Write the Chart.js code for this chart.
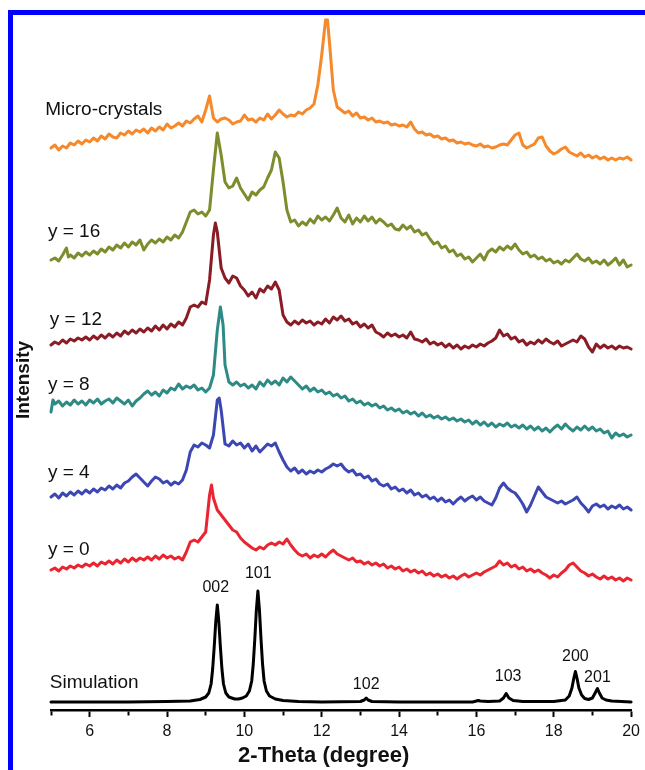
<!DOCTYPE html>
<html lang="en">
<head>
<meta charset="UTF-8">
<title>XRD patterns</title>
<style>
  html, body { margin: 0; padding: 0; background: #fff; overflow: hidden; }
  #frame { position: absolute; left: 8px; top: 10px; width: 1000px; height: 1000px;
           border-left: 5px solid #0000ff; border-top: 5px solid #0000ff; }
  #xrdChart { position: absolute; left: 0; top: 0; }
</style>
</head>
<body>
<div id="frame"></div>
<canvas id="xrdChart" width="645" height="770"></canvas>
<script src="https://cdn.jsdelivr.net/npm/chart.js"></script>
<script>
// [2-theta, offset intensity]
const microCrystals = [[5.0,562],[5.1,565],[5.2,560],[5.3,564],[5.4,562],[5.5,567],[5.6,565],[5.7,569],[5.8,566],[5.9,570],
  [6.0,568],[6.1,572],[6.2,569],[6.3,574],[6.4,571],[6.5,576],[6.6,573],[6.7,572],[6.8,577],[6.9,575],
  [7.0,579],[7.1,576],[7.2,580],[7.3,578],[7.4,581],[7.5,577],[7.6,582],[7.7,579],[7.8,583],[7.9,580],
  [8.0,586],[8.1,582],[8.2,584],[8.3,587],[8.4,584],[8.5,589],[8.6,587],[8.7,591],[8.8,594],[8.9,588],
  [9.0,600],[9.1,614],[9.2,592],[9.3,588],[9.4,591],[9.5,592],[9.6,590],[9.7,586],[9.8,588],[9.9,589],
  [10.0,595],[10.1,590],[10.2,591],[10.3,588],[10.4,592],[10.5,590],[10.6,596],[10.7,591],[10.8,595],[10.9,600],
  [11.0,596],[11.1,593],[11.2,595],[11.3,594],[11.4,598],[11.5,596],[11.6,600],[11.7,602],[11.8,606],[11.9,625],
  [12.0,655],[12.1,690],[12.15,690],[12.2,668],[12.3,620],[12.4,603],[12.5,600],[12.6,597],[12.7,599],[12.8,594],
  [12.9,597],[13.0,592],[13.1,593],[13.2,590],[13.3,592],[13.4,588],[13.5,589],[13.6,587],[13.7,588],[13.8,585],
  [13.9,586],[14.0,584],[14.1,585],[14.2,583],[14.3,588],[14.4,581],[14.5,577],[14.6,578],[14.7,575],[14.8,576],
  [14.9,573],[15.0,574],[15.1,571],[15.2,572],[15.3,569],[15.4,570],[15.5,567],[15.6,568],[15.7,566],[15.8,567],
  [15.9,565],[16.0,564],[16.1,566],[16.2,563],[16.3,564],[16.4,562],[16.5,563],[16.6,565],[16.7,566],[16.8,565],
  [16.9,570],[17.0,575],[17.1,577],[17.2,565],[17.3,562],[17.4,564],[17.5,566],[17.6,572],[17.7,573],[17.8,564],
  [17.9,559],[18.0,556],[18.1,558],[18.2,561],[18.3,563],[18.4,558],[18.5,556],[18.6,554],[18.7,557],[18.8,553],
  [18.9,555],[19.0,552],[19.1,554],[19.2,551],[19.3,553],[19.4,550],[19.5,552],[19.6,550],[19.7,552],[19.8,551],
  [19.9,553],[20.0,550]];

const y16 = [[5.0,450],[5.1,452],[5.2,449],[5.3,455],[5.4,462],[5.45,453],[5.5,455],[5.6,452],[5.7,457],[5.8,454],
  [5.9,458],[6.0,455],[6.1,459],[6.2,456],[6.3,461],[6.4,458],[6.5,463],[6.6,460],[6.7,465],[6.8,462],
  [6.9,467],[7.0,463],[7.1,468],[7.2,465],[7.3,470],[7.4,460],[7.5,466],[7.6,470],[7.7,467],[7.8,471],
  [7.9,468],[8.0,473],[8.1,470],[8.2,475],[8.3,472],[8.4,478],[8.5,488],[8.6,498],[8.7,500],[8.8,496],
  [8.9,498],[9.0,494],[9.1,500],[9.2,540],[9.3,577],[9.4,555],[9.5,528],[9.6,522],[9.7,524],[9.8,532],
  [9.9,522],[10.0,516],[10.1,510],[10.2,518],[10.3,515],[10.4,520],[10.5,523],[10.6,532],[10.7,540],[10.8,558],
  [10.9,552],[11.0,528],[11.1,500],[11.2,488],[11.3,490],[11.4,484],[11.5,488],[11.6,485],[11.7,491],[11.8,487],
  [11.9,494],[12.0,490],[12.1,493],[12.2,489],[12.3,495],[12.4,502],[12.5,492],[12.6,488],[12.7,495],[12.8,486],
  [12.9,492],[13.0,488],[13.1,494],[13.2,489],[13.3,493],[13.4,487],[13.5,491],[13.6,488],[13.7,484],[13.8,486],
  [13.9,481],[14.0,480],[14.1,485],[14.2,481],[14.3,484],[14.4,478],[14.5,480],[14.6,475],[14.7,477],[14.8,471],
  [14.9,466],[15.0,468],[15.1,462],[15.2,464],[15.3,458],[15.4,460],[15.5,454],[15.6,456],[15.7,451],[15.8,453],
  [15.9,448],[16.0,452],[16.1,456],[16.2,450],[16.3,458],[16.4,461],[16.5,458],[16.6,463],[16.7,460],[16.8,464],
  [16.9,461],[17.0,466],[17.1,460],[17.2,456],[17.3,458],[17.4,453],[17.5,455],[17.6,451],[17.7,453],[17.8,449],
  [17.9,451],[18.0,447],[18.1,449],[18.2,446],[18.3,450],[18.4,448],[18.5,452],[18.6,456],[18.7,451],[18.8,449],
  [18.9,452],[19.0,447],[19.1,449],[19.2,446],[19.3,450],[19.4,445],[19.5,448],[19.6,452],[19.7,445],[19.8,450],
  [19.9,443],[20.0,445]];

const y12 = [[5.0,365],[5.1,368],[5.2,366],[5.3,370],[5.4,367],[5.5,371],[5.6,369],[5.7,372],[5.8,370],[5.9,373],
  [6.0,370],[6.1,374],[6.2,371],[6.3,375],[6.4,372],[6.5,376],[6.6,373],[6.7,377],[6.8,374],[6.9,379],
  [7.0,376],[7.1,380],[7.2,377],[7.3,381],[7.4,378],[7.5,382],[7.6,379],[7.7,384],[7.8,380],[7.9,385],
  [8.0,381],[8.1,386],[8.2,383],[8.3,388],[8.4,385],[8.5,392],[8.6,403],[8.7,405],[8.8,403],[8.9,408],
  [9.0,406],[9.1,430],[9.2,475],[9.25,487],[9.3,478],[9.4,442],[9.5,432],[9.6,427],[9.7,434],[9.8,432],
  [9.9,424],[10.0,420],[10.1,414],[10.2,418],[10.3,412],[10.4,421],[10.5,418],[10.6,424],[10.7,421],[10.8,428],
  [10.9,420],[11.0,395],[11.1,388],[11.2,385],[11.3,389],[11.4,386],[11.5,390],[11.6,387],[11.7,389],[11.8,385],
  [11.9,388],[12.0,386],[12.1,391],[12.2,387],[12.3,393],[12.4,390],[12.5,394],[12.6,389],[12.7,391],[12.8,386],
  [12.9,388],[13.0,383],[13.1,386],[13.2,382],[13.3,385],[13.4,378],[13.5,376],[13.6,373],[13.7,377],[13.8,374],
  [13.9,376],[14.0,373],[14.1,375],[14.2,372],[14.3,378],[14.4,371],[14.5,370],[14.6,368],[14.7,371],[14.8,366],
  [14.9,368],[15.0,365],[15.1,367],[15.2,363],[15.3,366],[15.4,362],[15.5,365],[15.6,361],[15.7,364],[15.8,362],
  [15.9,365],[16.0,363],[16.1,366],[16.2,364],[16.3,367],[16.4,369],[16.5,372],[16.6,380],[16.7,374],[16.8,376],
  [16.9,371],[17.0,373],[17.1,368],[17.2,370],[17.3,365],[17.4,368],[17.5,366],[17.6,370],[17.7,367],[17.8,371],
  [17.9,368],[18.0,366],[18.1,369],[18.2,364],[18.3,366],[18.4,368],[18.5,370],[18.6,368],[18.7,374],[18.8,371],
  [18.9,363],[19.0,358],[19.1,366],[19.2,362],[19.3,365],[19.4,362],[19.5,364],[19.6,361],[19.7,364],[19.8,362],
  [19.9,363],[20.0,361]];

const y8 = [[5.0,298],[5.05,310],[5.1,306],[5.2,309],[5.3,304],[5.4,308],[5.5,305],[5.6,310],[5.7,306],[5.8,309],
  [5.9,305],[6.0,310],[6.1,307],[6.2,311],[6.3,306],[6.4,309],[6.5,311],[6.6,307],[6.7,312],[6.8,309],
  [6.9,306],[7.0,310],[7.1,304],[7.2,309],[7.3,312],[7.4,316],[7.5,319],[7.6,315],[7.7,318],[7.8,314],
  [7.9,320],[8.0,317],[8.1,322],[8.2,320],[8.3,326],[8.4,321],[8.5,324],[8.6,322],[8.7,325],[8.8,320],
  [8.9,322],[9.0,318],[9.1,322],[9.2,335],[9.3,380],[9.38,403],[9.45,385],[9.5,345],[9.6,328],[9.7,325],
  [9.8,328],[9.9,324],[10.0,326],[10.1,322],[10.2,325],[10.3,321],[10.4,328],[10.5,324],[10.6,330],[10.7,326],
  [10.8,329],[10.9,325],[11.0,332],[11.1,328],[11.2,333],[11.3,329],[11.4,325],[11.5,321],[11.6,324],[11.7,319],
  [11.8,322],[11.9,318],[12.0,320],[12.1,316],[12.2,318],[12.3,314],[12.4,316],[12.5,312],[12.6,314],[12.7,309],
  [12.8,311],[12.9,307],[13.0,309],[13.1,305],[13.2,307],[13.3,304],[13.4,306],[13.5,302],[13.6,304],[13.7,300],
  [13.8,302],[13.9,299],[14.0,301],[14.1,297],[14.2,299],[14.3,296],[14.4,298],[14.5,294],[14.6,297],[14.7,293],
  [14.8,295],[14.9,292],[15.0,294],[15.1,291],[15.2,293],[15.3,290],[15.4,292],[15.5,289],[15.6,291],[15.7,288],
  [15.8,290],[15.9,286],[16.0,289],[16.1,285],[16.2,288],[16.3,284],[16.4,287],[16.5,283],[16.6,286],[16.7,284],
  [16.8,287],[16.9,283],[17.0,285],[17.1,282],[17.2,285],[17.3,281],[17.4,284],[17.5,280],[17.6,283],[17.7,279],
  [17.8,282],[17.9,278],[18.0,282],[18.1,285],[18.2,281],[18.3,286],[18.4,282],[18.5,279],[18.6,283],[18.7,280],
  [18.8,284],[18.9,280],[19.0,283],[19.1,279],[19.2,281],[19.3,277],[19.4,279],[19.5,272],[19.6,277],[19.7,274],
  [19.8,276],[19.9,273],[20.0,275]];

const y4 = [[5.0,213],[5.1,216],[5.2,212],[5.3,217],[5.4,214],[5.5,218],[5.6,215],[5.7,219],[5.8,216],[5.9,220],
  [6.0,217],[6.1,221],[6.2,218],[6.3,222],[6.4,220],[6.5,224],[6.6,221],[6.7,225],[6.8,222],[6.9,227],
  [7.0,229],[7.1,233],[7.2,236],[7.3,232],[7.4,228],[7.5,224],[7.6,229],[7.7,233],[7.8,231],[7.9,227],
  [8.0,229],[8.1,225],[8.2,228],[8.3,226],[8.4,230],[8.5,240],[8.6,258],[8.7,265],[8.8,263],[8.9,267],
  [9.0,265],[9.1,262],[9.2,275],[9.3,310],[9.35,312],[9.4,300],[9.5,266],[9.6,264],[9.7,269],[9.8,265],
  [9.9,267],[10.0,262],[10.1,266],[10.2,259],[10.3,264],[10.4,258],[10.5,262],[10.6,266],[10.7,264],[10.8,267],
  [10.9,258],[11.0,250],[11.1,243],[11.2,239],[11.3,242],[11.4,237],[11.5,240],[11.6,236],[11.7,239],[11.8,237],
  [11.9,240],[12.0,238],[12.1,241],[12.2,243],[12.3,246],[12.4,244],[12.5,246],[12.6,241],[12.7,238],[12.8,240],
  [12.9,235],[13.0,236],[13.1,232],[13.2,234],[13.3,229],[13.4,231],[13.5,226],[13.6,224],[13.7,226],[13.8,221],
  [13.9,223],[14.0,219],[14.1,221],[14.2,217],[14.3,220],[14.4,215],[14.5,217],[14.6,213],[14.7,215],[14.8,211],
  [14.9,213],[15.0,209],[15.1,212],[15.2,208],[15.3,210],[15.4,206],[15.5,210],[15.6,213],[15.7,209],[15.8,212],
  [15.9,214],[16.0,210],[16.1,213],[16.2,209],[16.3,207],[16.4,205],[16.5,212],[16.6,222],[16.7,227],[16.8,222],
  [16.9,219],[17.0,217],[17.1,212],[17.2,206],[17.3,198],[17.4,205],[17.5,214],[17.6,223],[17.7,218],[17.8,213],
  [17.9,211],[18.0,209],[18.1,207],[18.2,209],[18.3,206],[18.4,208],[18.5,210],[18.6,213],[18.7,207],[18.8,203],
  [18.9,198],[19.0,204],[19.1,206],[19.2,203],[19.3,205],[19.4,201],[19.5,204],[19.6,202],[19.7,205],[19.8,201],
  [19.9,203],[20.0,200]];

const y0 = [[5.0,140],[5.1,142],[5.2,139],[5.3,143],[5.4,141],[5.5,144],[5.6,142],[5.7,145],[5.8,143],[5.9,146],
  [6.0,144],[6.1,147],[6.2,144],[6.3,148],[6.4,146],[6.5,149],[6.6,146],[6.7,150],[6.8,147],[6.9,151],
  [7.0,148],[7.1,152],[7.2,149],[7.3,152],[7.4,150],[7.5,153],[7.6,150],[7.7,154],[7.8,151],[7.9,155],
  [8.0,152],[8.1,154],[8.2,151],[8.3,153],[8.4,150],[8.5,158],[8.6,168],[8.7,170],[8.8,168],[8.9,173],
  [9.0,178],[9.1,215],[9.15,225],[9.2,212],[9.3,200],[9.4,195],[9.5,190],[9.6,185],[9.7,180],[9.8,178],
  [9.9,172],[10.0,168],[10.1,165],[10.2,162],[10.3,160],[10.4,163],[10.5,161],[10.6,165],[10.7,167],[10.8,165],
  [10.9,168],[11.0,166],[11.1,171],[11.2,165],[11.3,160],[11.4,156],[11.5,154],[11.6,156],[11.7,152],[11.8,155],
  [11.9,153],[12.0,156],[12.1,153],[12.2,157],[12.3,160],[12.4,156],[12.5,154],[12.6,152],[12.7,150],[12.8,152],
  [12.9,148],[13.0,149],[13.1,146],[13.2,148],[13.3,145],[13.4,147],[13.5,144],[13.6,146],[13.7,142],[13.8,144],
  [13.9,141],[14.0,143],[14.1,139],[14.2,141],[14.3,138],[14.4,140],[14.5,137],[14.6,139],[14.7,135],[14.8,137],
  [14.9,134],[15.0,136],[15.1,133],[15.2,135],[15.3,132],[15.4,134],[15.5,131],[15.6,134],[15.7,136],[15.8,133],
  [15.9,135],[16.0,137],[16.1,135],[16.2,138],[16.3,140],[16.4,142],[16.5,144],[16.6,149],[16.7,145],[16.8,147],
  [16.9,143],[17.0,145],[17.1,141],[17.2,143],[17.3,139],[17.4,141],[17.5,138],[17.6,140],[17.7,137],[17.8,135],
  [17.9,132],[18.0,135],[18.1,133],[18.2,137],[18.3,140],[18.4,145],[18.5,147],[18.6,143],[18.7,139],[18.8,137],
  [18.9,134],[19.0,136],[19.1,133],[19.2,131],[19.3,134],[19.4,131],[19.5,133],[19.6,130],[19.7,132],[19.8,129],
  [19.9,132],[20.0,130]];

const simulation = [[5.0,8],[6.0,8],[7.0,8],[8.0,8.5],[8.6,9],[8.85,10.5],[9.0,13],[9.08,17],[9.14,26],[9.18,41],
  [9.22,63],[9.26,88],[9.3,105],[9.34,88],[9.38,63],[9.42,41],[9.46,26],[9.52,17],[9.6,13],[9.75,11],
  [9.85,11],[9.95,12],[10.05,14],[10.13,19],[10.19,29],[10.23,46],[10.27,71],[10.31,100],[10.35,119],[10.39,100],
  [10.43,71],[10.47,46],[10.51,29],[10.57,19],[10.65,14],[10.8,11],[11.0,9.5],[11.4,8.5],[12.0,8],[13.0,8.5],
  [13.1,10],[13.15,12],[13.2,10],[13.3,8.5],[14.0,8],[15.0,8],[15.9,8],[16.0,9],[16.05,9.5],[16.1,9],
  [16.3,8.5],[16.6,9],[16.7,12],[16.77,16.5],[16.84,12],[16.95,9.5],[17.2,8.5],[18.0,8.5],[18.3,10],[18.4,14],
  [18.47,22],[18.52,32],[18.56,38.5],[18.6,32],[18.65,22],[18.72,15],[18.8,11.5],[18.9,10.5],[19.0,12],[19.07,17],
  [19.13,21.5],[19.18,17],[19.25,12],[19.35,10],[19.5,9],[20.0,8]];

const seriesNames = ['Micro-crystals', 'y = 16', 'y = 12', 'y = 8', 'y = 4', 'y = 0', 'Simulation'];
const peakNames = ['002', '101', '102', '103', '200', '201'];
const xTitle = '2-Theta (degree)';
const yTitle = 'Intensity';

const FONT = '"Liberation Sans", Arial, Helvetica, sans-serif';
const colors = ['#f5892b', '#7c8d2d', '#8a1c26', '#2e8a84', '#3d47b3', '#ea2530', '#000000'];
const allSeries = [microCrystals, y16, y12, y8, y4, y0, simulation];

// label anchors, in data units
const namePos = [[4.85, 600], [4.92, 478], [4.97, 390], [4.92, 325], [4.92, 237], [4.92, 160], [4.97, 27]];
const peakPos = [[9.26, 122], [10.36, 136], [13.15, 25], [16.82, 33], [18.56, 53], [19.13, 32]];

const textPlugin = {
  id: 'textLabels',
  afterDraw(chart) {
    const { ctx, scales: { x, y } } = chart;
    ctx.save();
    ctx.fillStyle = '#111';
    ctx.textBaseline = 'middle';

    ctx.textAlign = 'left';
    ctx.font = '19px ' + FONT;
    seriesNames.forEach((t, i) => {
      ctx.fillText(t, x.getPixelForValue(namePos[i][0]), y.getPixelForValue(namePos[i][1]));
    });

    ctx.textAlign = 'center';
    ctx.font = '16px ' + FONT;
    peakNames.forEach((t, i) => {
      ctx.fillText(t, x.getPixelForValue(peakPos[i][0]), y.getPixelForValue(peakPos[i][1]));
    });

    ctx.font = 'bold 22px ' + FONT;
    ctx.fillText(xTitle, x.getPixelForValue(12.05), 756);

    ctx.translate(24, 380);
    ctx.rotate(-Math.PI / 2);
    ctx.font = 'bold 19px ' + FONT;
    ctx.fillText(yTitle, 0, 0);
    ctx.restore();
  }
};

new Chart(document.getElementById('xrdChart'), {
  type: 'line',
  data: {
    datasets: allSeries.map((d, i) => ({
      label: seriesNames[i],
      data: d,
      borderColor: colors[i],
      borderWidth: 3,
      pointRadius: 0,
      tension: 0,
      clip: false
    }))
  },
  options: {
    responsive: false,
    animation: false,
    layout: { padding: { left: 51, right: 9, top: 10, bottom: 0 } },
    plugins: { legend: { display: false }, tooltip: { enabled: false } },
    elements: { line: { borderJoinStyle: 'round', borderCapStyle: 'round' } },
    scales: {
      x: {
        type: 'linear',
        min: 5,
        max: 20,
        afterFit: s => { s.height = 60; },
        border: { display: true, color: '#000', width: 2.5 },
        grid: {
          drawOnChartArea: false,
          tickLength: 7,
          tickWidth: 2,
          tickColor: '#000',
          tickBorderDash: c => (c.tick && c.tick.value % 2 !== 0) ? [4, 20] : []
        },
        ticks: {
          stepSize: 1,
          padding: 5,
          autoSkip: false,
          maxRotation: 0,
          color: '#111',
          font: { family: FONT, size: 16 },
          callback: v => (v % 2 === 0 ? v : '')
        }
      },
      y: { display: false, min: 0, max: 700 }
    }
  },
  plugins: [textPlugin]
});
</script>
</body>
</html>
